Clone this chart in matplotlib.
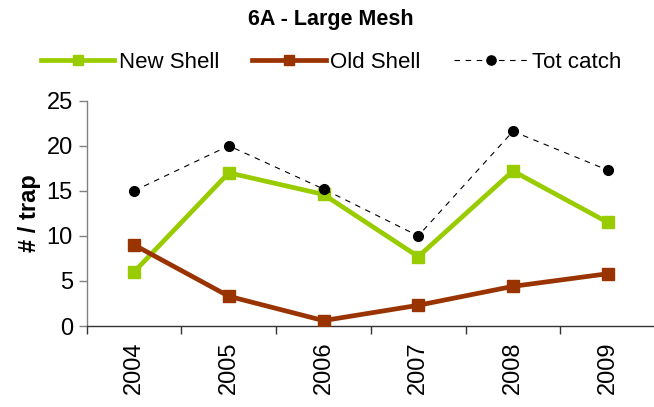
import matplotlib
matplotlib.use("Agg")
import matplotlib.pyplot as plt
from matplotlib.ticker import FixedLocator, NullFormatter, FixedFormatter

plt.rcParams['font.family'] = ['Liberation Sans', 'DejaVu Sans']

years = ["2004", "2005", "2006", "2007", "2008", "2009"]
new_shell = [6.0, 17.0, 14.6, 7.7, 17.2, 11.5]
old_shell = [9.0, 3.3, 0.6, 2.3, 4.4, 5.8]
tot_catch = [15.0, 20.0, 15.2, 10.0, 21.6, 17.3]
y_ticks = [0, 5, 10, 15, 20, 25]

fig = plt.figure(figsize=(6.54, 4.07), dpi=100)
ax = fig.add_axes([0.1326, 0.199, 0.869, 0.5536])

x = list(range(len(years)))
ax.plot(x, new_shell, color="#99CC00", lw=3.4, marker="s", ms=8,
        mec="#99CC00", mfc="#99CC00", label="New Shell", zorder=3)
ax.plot(x, old_shell, color="#993300", lw=3.4, marker="s", ms=8,
        mec="#993300", mfc="#993300", label="Old Shell", zorder=3)
ax.plot(x, tot_catch, color="black", lw=0.8, ls=(0, (5, 5)), marker="o",
        ms=7, mec="black", mfc="black", label="Tot catch", zorder=4)

ax.set_xlim(-0.5, len(years) - 0.5)
ax.set_ylim(0, 25)
ax.set_yticks(y_ticks)
ax.set_yticklabels([str(v) for v in y_ticks], fontsize=17)

# boundary ticks between categories, labels centred on categories
ax.xaxis.set_major_locator(FixedLocator([i - 0.5 for i in range(len(years) + 1)]))
ax.xaxis.set_major_formatter(NullFormatter())
ax.xaxis.set_minor_locator(FixedLocator(x))
ax.xaxis.set_minor_formatter(FixedFormatter(years))
ax.tick_params(axis="x", which="major", length=6, width=1, color="#333333", direction="out")
ax.tick_params(axis="x", which="minor", length=0, pad=11, labelsize=17, labelrotation=90)
ax.tick_params(axis="y", length=6, width=1, color="#808080", direction="out", pad=4)

for side in ("top", "right"):
    ax.spines[side].set_visible(False)
ax.spines["left"].set_color("#808080")
ax.spines["left"].set_linewidth(1)
ax.spines["bottom"].set_color("#333333")
ax.spines["bottom"].set_linewidth(1)

ax.set_ylabel("# / trap", fontsize=17, fontweight="bold", labelpad=4)

fig.text(331 / 654, 1 - 20 / 407, "6A - Large Mesh", ha="center", va="center",
         fontsize=15.5, fontweight="bold")

fig.legend(loc="center", bbox_to_anchor=(331 / 654, 1 - 62 / 407), ncol=3, frameon=False,
           fontsize=16, handlelength=3.3, columnspacing=1.5, handletextpad=0.2,
           markerscale=0.95)

fig.savefig("out.png", dpi=100)
